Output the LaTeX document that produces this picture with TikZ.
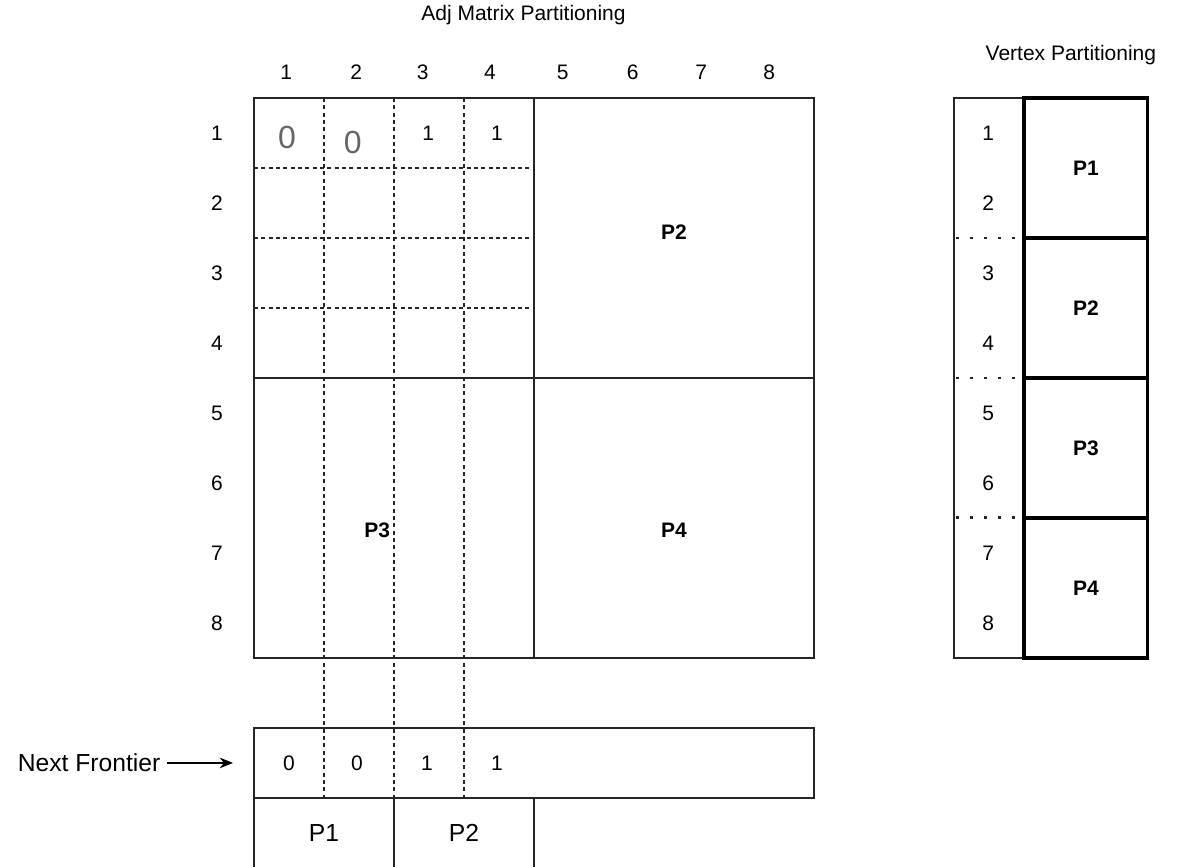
\documentclass[tikz,border=0pt]{standalone}
\usepackage{fontspec}
\setmainfont{Liberation Sans}
\usepackage{tikz}
\usetikzlibrary{arrows.meta}
\definecolor{zerogray}{HTML}{666666}

\begin{document}
\begin{tikzpicture}[x=52.5pt,y=52.5pt,
  lbl/.style={font=\fontsize{15.75}{18}\selectfont},
  blbl/.style={font=\fontsize{15.75}{18}\selectfont\bfseries},
  biglbl/.style={font=\fontsize{18.5}{22}\selectfont},
  bigzero/.style={zerogray,font=\fontsize{24}{28}\selectfont},
  grid/.style={black!85,line width=1.2pt},
  cut/.style={black!85,line width=1.1pt,dash pattern=on 3pt off 2.5pt},
  part/.style={black,line width=2.4pt},
  dots/.style={black!85,line width=2.2pt,dash pattern=on 2.2pt off 8.3pt}]
  \useasboundingbox (-3.629,-2.986) rectangle (13.429,9.4);

  % adjacency matrix, 4x4 blocks
  \draw[grid] (0,0) rectangle (8,8);
  \draw[grid] (4,0) -- (4,8);
  \draw[grid] (0,4) -- (8,4);
  \foreach \y in {5,6,7}
    \draw[cut] (0,\y) -- (4,\y);
  \foreach \x in {1,2,3}
    \draw[cut] (\x,8) -- (\x,-2);

  \node[lbl] (title) at (3.85,9.19) {Adj Matrix Partitioning};

  \foreach \x/\n in {0.46/1,1.46/2,2.41/3,3.37/4,4.41/5,5.41/6,6.39/7,7.36/8}
    \node[lbl] (c\n) at (\x,8.37) {\n};
  \foreach \n in {1,...,8}
    \node[lbl] (r\n) at (-0.53,8.5-\n) {\n};

  % first row of the top-left block
  \node[bigzero] (a11) at (0.47,7.44) {0};
  \node[bigzero] (a12) at (1.41,7.37) {0};
  \node[lbl] (a13) at (2.49,7.5) {1};
  \node[lbl] (a14) at (3.47,7.5) {1};

  \node[blbl] (m2) at (6,6.09) {P2};
  \node[blbl] (m3) at (1.76,1.83) {P3};
  \node[blbl] (m4) at (6,1.83) {P4};

  % frontier vector and its owners
  \draw[grid] (0,-2) rectangle (8,-1);
  \foreach \x in {0,2,4}
    \draw[grid] (\x,-2) -- (\x,-3);
  \foreach \x/\v in {0.5/0,1.47/0,2.47/1,3.47/1}
    \node[lbl] (f\x) at (\x,-1.5) {\v};
  \node[biglbl] (o1) at (1,-2.5) {P1};
  \node[biglbl] (o2) at (3,-2.5) {P2};

  \node[biglbl,anchor=west,inner sep=0pt,outer sep=5pt] (nf) at (-3.47,-1.5) {Next Frontier};
  \coordinate (nfend) at (-0.3,-1.5);
  \draw[black,line width=1.1pt,-{Stealth[length=10pt,width=8pt]}] (nf) -- (nfend);

  % vertex partitioning
  \node[lbl] (vtitle) at (11.67,8.61) {Vertex Partitioning};
  \draw[black!85,line width=1pt] (10,0) rectangle (11,8);
  \foreach \y in {2,4,6}
    \draw[dots] (10.03,\y) -- (11,\y);
  \foreach \n in {1,...,8}
    \node[lbl] (v\n) at (10.49,8.5-\n) {\n};
  \foreach \p in {1,...,4}
    {
    \draw[part] (11,8-2*\p) rectangle (12.77,10-2*\p);
    \node[blbl] (p\p) at (11.885,9-2*\p) {P\p};
    }
\end{tikzpicture}
\end{document}
